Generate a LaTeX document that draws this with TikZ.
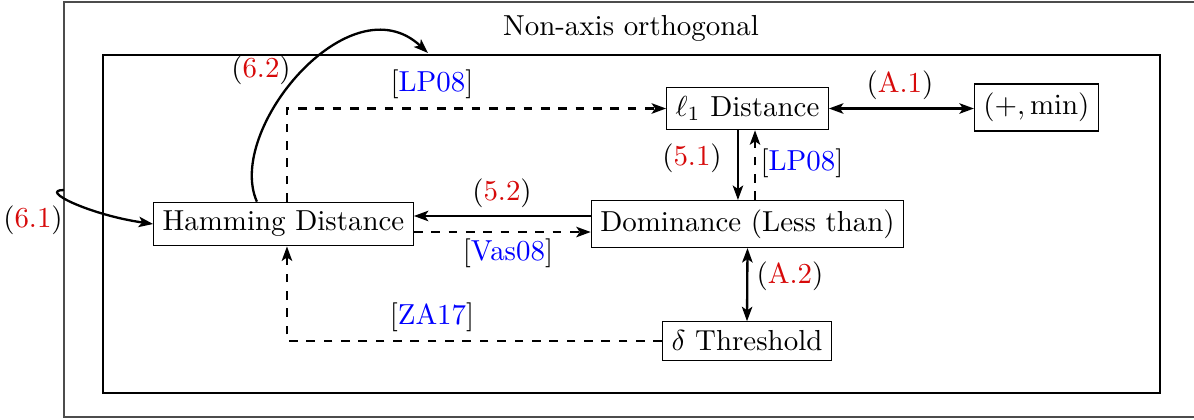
\documentclass[tikz,border=0pt]{standalone}
\usetikzlibrary{arrows.meta}
\definecolor{refred}{RGB}{215,10,10}
\begin{document}
\begin{tikzpicture}[x=0.3457pt,y=0.3457pt,
  box/.style={draw,line width=0.4pt,inner sep=3.1pt},
  arr/.style={thick,-{Stealth[length=5pt,width=3.6pt,inset=1.2pt]}},
  darr/.style={arr,dashed},
  barr/.style={thick,{Stealth[length=5pt,width=3.6pt,inset=1.2pt]}-{Stealth[length=5pt,width=3.6pt,inset=1.2pt]}},
  lab/.style={inner sep=1pt}]
\useasboundingbox (0,0) rectangle (1194,-419);
\draw[line width=0.4pt,draw=black!70] (64,-2) rectangle (1200,-417);
\draw[line width=0.4pt] (103,-55) rectangle (1160,-393);
\node (title) at (631,-28) {Non-axis orthogonal};

\node[box] (ham) at (283.5,-224) {Hamming Distance};
\node[box] (l1) at (747.5,-108.5) {$\ell_1$ Distance};
\node[box] (pm) at (1036.5,-107.5) {$(+,\min)$};
\node[box] (dom) at (747.5,-224) {Dominance (Less than)};
\node[box] (del) at (747,-341) {$\delta$ Threshold};

\coordinate (hamN) at ([xshift=1.2pt]ham.north);
\coordinate (hamS) at ([xshift=1.2pt]ham.south);
\coordinate (inner) at (428,-53);
\coordinate (outer) at (64,-190);

% LP08 dashed Hamming -> l1
\draw[darr] (hamN) |- (l1.west);
\node[lab] (llp1) at (432,-84) {[\textcolor{blue}{LP08}]};
% 6.2
\draw[arr] ([xshift=-9.2pt]ham.north) .. controls (225,-130) and (350,20) .. (inner);
\node[lab] (l62) at (261,-70) {(\textcolor{refred}{6.2})};
% 6.1
\draw[arr] (outer) .. controls (38,-190) and (90,-215) .. (ham.west);
\node[lab] (l61) at (33,-220) {(\textcolor{refred}{6.1})};
% 5.2
\draw[arr] ([yshift=2.77pt]dom.west) -- ([yshift=2.77pt]ham.east);
\node[lab] (l52) at (502,-193) {(\textcolor{refred}{5.2})};
% Vas08
\draw[darr] ([yshift=-2.77pt]ham.east) -- ([yshift=-2.77pt]dom.west);
\node[lab] (lvas) at (508,-253) {[\textcolor{blue}{Vas08}]};
% 5.1
\draw[arr] ([xshift=-3.3pt]l1.south) -- ([xshift=-3.3pt]l1.south |- dom.north);
\node[lab] (l51) at (692,-158) {(\textcolor{refred}{5.1})};
% LP08 vertical
\draw[darr] ([xshift=2.6pt]l1.south |- dom.north) -- ([xshift=2.6pt]l1.south);
\node[lab] (llp2) at (802,-163) {[\textcolor{blue}{LP08}]};
% A.1
\draw[barr] (l1.east) -- (pm.west |- l1.east);
\node[lab] (la1) at (900,-85) {(\textcolor{refred}{A.1})};
% A.2
\draw[barr] (dom.south) -- (del.north);
\node[lab] (la2) at (790,-276) {(\textcolor{refred}{A.2})};
% ZA17
\draw[darr] (del.west) -| (hamS);
\node[lab] (lza) at (432,-317) {[\textcolor{blue}{ZA17}]};
\end{tikzpicture}
\end{document}
